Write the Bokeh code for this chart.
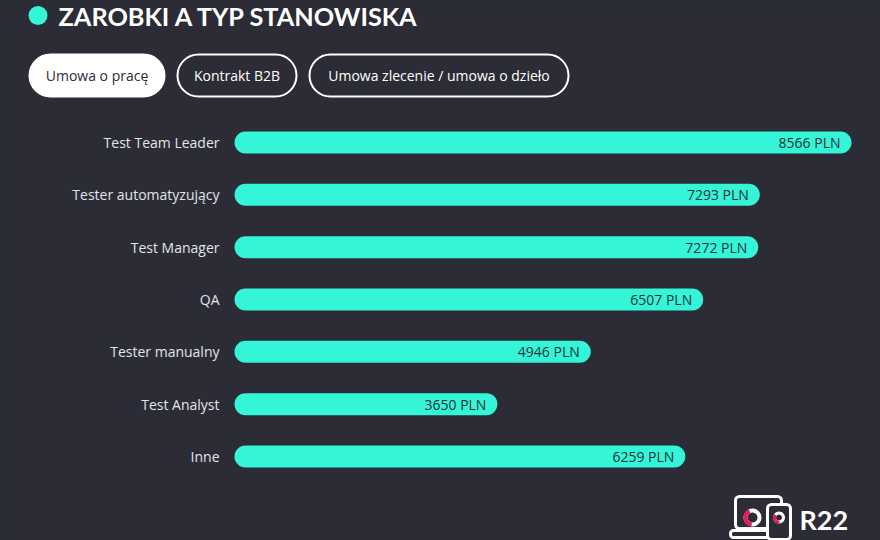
from bokeh.plotting import figure
from bokeh.models import Range1d
from bokeh.core.properties import value
from bokeh.embed import file_html
from bokeh.resources import INLINE
from jinja2 import Template

# ---- data ----
categories = ["Test Team Leader", "Tester automatyzujący", "Test Manager", "QA",
              "Tester manualny", "Test Analyst", "Inne"]
salaries = [8566, 7293, 7272, 6507, 4946, 3650, 6259]
value_labels = [f"{v} PLN" for v in salaries]
tabs = ["Umowa o pracę", "Kontrakt B2B", "Umowa zlecenie / umowa o dzieło"]
title_text = "ZAROBKI A TYP STANOWISKA"
brand = "R22"

# ---- layout / style ----
W, H = 880, 540
BG = "#2b2c35"
BAR = "#34f5d7"
FONT = "Open Sans"
TFONT = "Lato"
X0_PX, SX = 234, 617 / 8566
Y0_PX, SY = 142, 52.33


def dx(px):
    return (px - X0_PX) / SX


def dy(py):
    return (py - Y0_PX) / SY


p = figure(width=W, height=H, output_backend="svg", toolbar_location=None,
           x_range=Range1d(dx(0), dx(W)), y_range=Range1d(dy(H), dy(0)),
           x_axis_type=None, y_axis_type=None, min_border=0,
           background_fill_color=BG, border_fill_color=BG, outline_line_color=None)
p.grid.visible = False

idx = list(range(len(categories)))

# bars
p.hbar(y=idx, left=0, right=salaries, height=22 / SY, fill_color=BAR,
       line_color=None, border_radius=11)

# category labels
p.text(x=0, y=idx, text=categories, x_offset=-15, text_align="right",
       text_baseline="middle", text_color="#e4e4ea", text_font=value(FONT),
       text_font_size="14px")

# value labels
p.text(x=salaries, y=idx, text=value_labels, x_offset=-11, text_align="right",
       text_baseline="middle", text_color="#1e3136", text_font=value(FONT),
       text_font_size="14px")

# tabs
tab_l = [29, 177, 309]
tab_r = [164, 296, 568]
p.quad(left=[dx(v) for v in tab_l], right=[dx(v) for v in tab_r],
       top=dy(54), bottom=dy(96), fill_color=["#ffffff", BG, BG],
       line_color="#ffffff", line_width=2, border_radius=21)
p.text(x=[dx((a + b) / 2) for a, b in zip(tab_l, tab_r)], y=dy(75), text=tabs,
       text_align="center", text_baseline="middle",
       text_color=[BG, "#ffffff", "#ffffff"], text_font=value(FONT),
       text_font_size="14px")

# title
p.scatter(x=[dx(37.5)], y=[dy(15)], size=19, marker="circle",
          fill_color=BAR, line_color=None)
p.text(x=[dx(58)], y=[dy(15)], text=[title_text], text_align="left",
       text_baseline="middle", text_color="#ffffff", text_font=value(TFONT),
       text_font_style="bold", text_font_size="25.3px")

# logo
p.quad(left=[dx(735)], right=[dx(781)], top=[dy(496)], bottom=[dy(528)],
       fill_color=None, line_color="#ffffff", line_width=3, border_radius=4)
p.quad(left=[dx(730)], right=[dx(786)], top=[dy(530)], bottom=[dy(537)],
       fill_color=BG, line_color="#ffffff", line_width=3, border_radius=3)
p.annular_wedge(x=[dx(752)], y=[dy(517)], inner_radius=5, outer_radius=9,
                inner_radius_units="screen", outer_radius_units="screen",
                start_angle=0, end_angle=6.283, fill_color="#ffffff", line_color=None)
p.annular_wedge(x=[dx(752)], y=[dy(517)], inner_radius=5, outer_radius=9,
                inner_radius_units="screen", outer_radius_units="screen",
                start_angle=2.0, end_angle=4.6, fill_color="#e8185a", line_color=None)
p.quad(left=[dx(767)], right=[dx(790)], top=[dy(504)], bottom=[dy(539)],
       fill_color=BG, line_color="#ffffff", line_width=3, border_radius=4)
p.annular_wedge(x=[dx(778.5)], y=[dy(517)], inner_radius=3, outer_radius=6,
                inner_radius_units="screen", outer_radius_units="screen",
                start_angle=0, end_angle=6.283, fill_color="#ffffff", line_color=None)
p.annular_wedge(x=[dx(778.5)], y=[dy(517)], inner_radius=3, outer_radius=6,
                inner_radius_units="screen", outer_radius_units="screen",
                start_angle=2.5, end_angle=4.8, fill_color="#e8185a", line_color=None)
p.text(x=[dx(799)], y=[dy(519)], text=[brand], text_align="left",
       text_baseline="middle", text_color="#ffffff", text_font=value(TFONT),
       text_font_style="bold", text_font_size="27px")

tpl = Template("""{% extends base %}
{% block preamble %}<style>html, body { margin: 0; padding: 0; background: #2b2c35; overflow: hidden; }</style>{% endblock %}""")

open("out.html", "w").write(file_html(p, INLINE, title="Zarobki a typ stanowiska", template=tpl))
